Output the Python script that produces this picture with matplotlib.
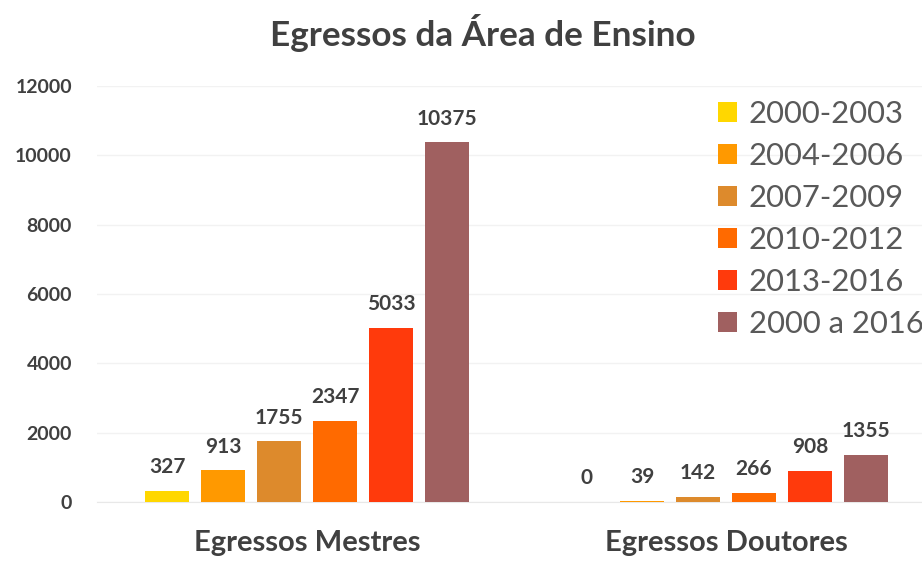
import matplotlib
matplotlib.use("Agg")
import matplotlib.pyplot as plt
import numpy as np

categories = ["Egressos Mestres", "Egressos Doutores"]
periods = ["2000-2003", "2004-2006", "2007-2009", "2010-2012", "2013-2016", "2000 a 2016"]
mestres = [327, 913, 1755, 2347, 5033, 10375]
doutores = [0, 39, 142, 266, 908, 1355]
colors = ["#FFD700", "#FF9900", "#DD8A2C", "#FF6A00", "#FF3A0C", "#A06060"]
yticks = [0, 2000, 4000, 6000, 8000, 10000, 12000]

plt.rcParams['font.family'] = ['Lato', 'DejaVu Sans']
fig = plt.figure(figsize=(9.22, 5.63), dpi=100)
ax = fig.add_axes([97/922, 61/563, 1 - 97/922, 416/563])

x = np.arange(len(categories))
step = 56/419
width = 44/419
values = np.array([mestres, doutores])
for i, (p, c) in enumerate(zip(periods, colors)):
    pos = x + (i - 2.5) * step
    bars = ax.bar(pos, values[:, i], width=width, color=c, label=p, zorder=3)
    for xx, v in zip(pos, values[:, i]):
        ax.annotate(f"{v}", (xx, v), xytext=(0, 17), textcoords="offset points",
                    ha="center", va="center", fontsize=15, fontweight="bold",
                    color="#404040")

ax_w_px = 922 - 97
left = -(307 - 97) / 419
ax.set_xlim(left, left + ax_w_px / 419)
ax.set_ylim(0, 12000)
ax.set_yticks(yticks)
ax.set_yticklabels([str(t) for t in yticks], fontsize=14, color="#404040",
                   fontweight="bold")
ax.set_xticks(x)
ax.set_xticklabels(categories, fontsize=21, color="#404040", fontweight="bold")
ax.tick_params(axis="both", length=0)
ax.tick_params(axis="y", pad=18)
ax.tick_params(axis="x", pad=20)
for s in ["top", "right", "left"]:
    ax.spines[s].set_visible(False)
ax.spines["bottom"].set_color("#e8e8e8")
ax.yaxis.grid(True, color="#f2f2f2", linewidth=1, zorder=0)

fig.text(0.524, 0.941, "Egressos da Área de Ensino", ha="center", va="center",
         fontsize=25.3, fontweight="bold", color="#404040")

leg = ax.legend(loc="upper left", bbox_to_anchor=(718/922, 1 - 100/563),
                bbox_transform=fig.transFigure, frameon=False, fontsize=22.3,
                handlelength=0.6, handleheight=0.6, handletextpad=0.4,
                labelspacing=0.45, borderpad=0, borderaxespad=0)
for t in leg.get_texts():
    t.set_color("#595959")

fig.savefig("out.png", dpi=100)
